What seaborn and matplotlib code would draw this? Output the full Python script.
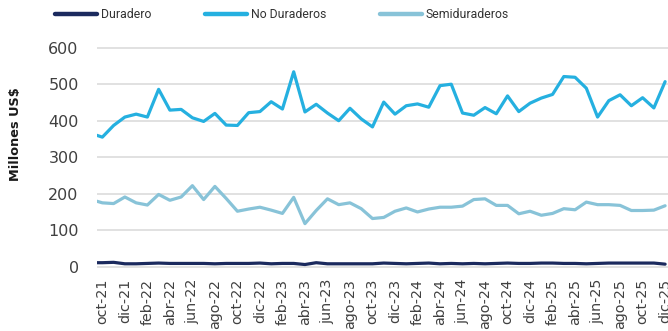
import matplotlib
matplotlib.use("Agg")
import matplotlib.pyplot as plt
from matplotlib.lines import Line2D
import numpy as np
import pandas as pd
import seaborn as sns

# Monthly series, sep-21 .. dic-25 (millones US$)
meses = ["ene", "feb", "mar", "abr", "may", "jun", "jul", "ago", "sep", "oct", "nov", "dic"]
periodos = [f"{meses[m - 1]}-{a % 100:02d}" for a in range(2021, 2026) for m in range(1, 13)
            if (a, m) >= (2021, 9)]

duradero = [11, 11, 12, 8, 8, 9, 10, 9, 9, 9, 9, 8,
            9, 9, 9, 10, 8, 9, 9, 6, 11, 8, 8, 8,
            8, 8, 10, 9, 8, 9, 10, 8, 9, 8, 9, 8,
            9, 10, 9, 9, 10, 10, 9, 9, 8, 9, 10, 10,
            10, 10, 10, 7]

no_duraderos = [365, 355, 387, 410, 418, 410, 486, 429, 431, 408, 398, 420,
                388, 387, 422, 425, 452, 432, 534, 424, 445, 421, 400, 434,
                405, 383, 451, 418, 441, 446, 437, 496, 500, 421, 415, 436,
                419, 468, 425, 448, 462, 472, 521, 519, 489, 410, 455, 471,
                441, 463, 435, 507]

semiduraderos = [184, 175, 173, 191, 175, 169, 198, 182, 191, 222, 184, 220,
                 187, 152, 158, 163, 155, 146, 190, 118, 154, 186, 170, 175,
                 159, 132, 135, 152, 161, 150, 158, 163, 163, 166, 184, 186,
                 168, 168, 145, 152, 141, 146, 159, 156, 177, 170, 170, 168,
                 154, 154, 155, 167]

series = ["Duradero", "No Duraderos", "Semiduraderos"]
colores = ["#1B2A5E", "#25B0E0", "#88C3D8"]

idx = np.arange(len(periodos))
df = pd.concat([
    pd.DataFrame({"t": idx, "valor": v, "serie": s})
    for s, v in zip(series, [duradero, no_duraderos, semiduraderos])
])

sns.set_style("white")
plt.rcParams["font.family"] = ["DejaVu Sans"]

fig = plt.figure(figsize=(6.68, 3.31), dpi=100)
ax = fig.add_axes([0.1448, 0.1876, 0.8593, 0.6749])

sns.lineplot(data=df, x="t", y="valor", hue="serie", palette=dict(zip(series, colores)),
             hue_order=series, linewidth=2.3, legend=False, ax=ax)

ax.set_xlim(0.5, 51.5)
ax.set_ylim(-6, 606)
ax.set_yticks(range(0, 601, 100))
ax.yaxis.grid(True, color="#D9D9D9", linewidth=1.1)
ax.set_axisbelow(True)
for sp in ax.spines.values():
    sp.set_visible(False)

tick_pos = idx[1::2]
ax.set_xticks(tick_pos)
ax.set_xticklabels([periodos[i] for i in tick_pos], rotation=90, fontsize=10.3, color="#404040")
ax.tick_params(axis="x", length=0, pad=7)
ax.tick_params(axis="y", length=0, pad=13, labelsize=11.5, labelcolor="#404040")
ax.set_xlabel("")
ax.set_ylabel("")

fig.text(16 / 668, 1 - 134 / 331, "Millones US$", rotation=90, ha="center", va="center",
         fontsize=9.3, fontweight="bold", color="#1A1A1A")

handles = [Line2D([0], [0], color=c, linewidth=3.2, solid_capstyle="round") for c in colores]
fig.legend(handles, series, loc="center left", bbox_to_anchor=(55 / 668, 1 - 15 / 331),
           ncol=3, frameon=False, prop={"family": "Roboto", "size": 8.8},
           handlelength=3.4, handletextpad=0.35, columnspacing=4.4, labelcolor="#333333",
           borderaxespad=0, borderpad=0)

fig.savefig("out.png", dpi=100)
